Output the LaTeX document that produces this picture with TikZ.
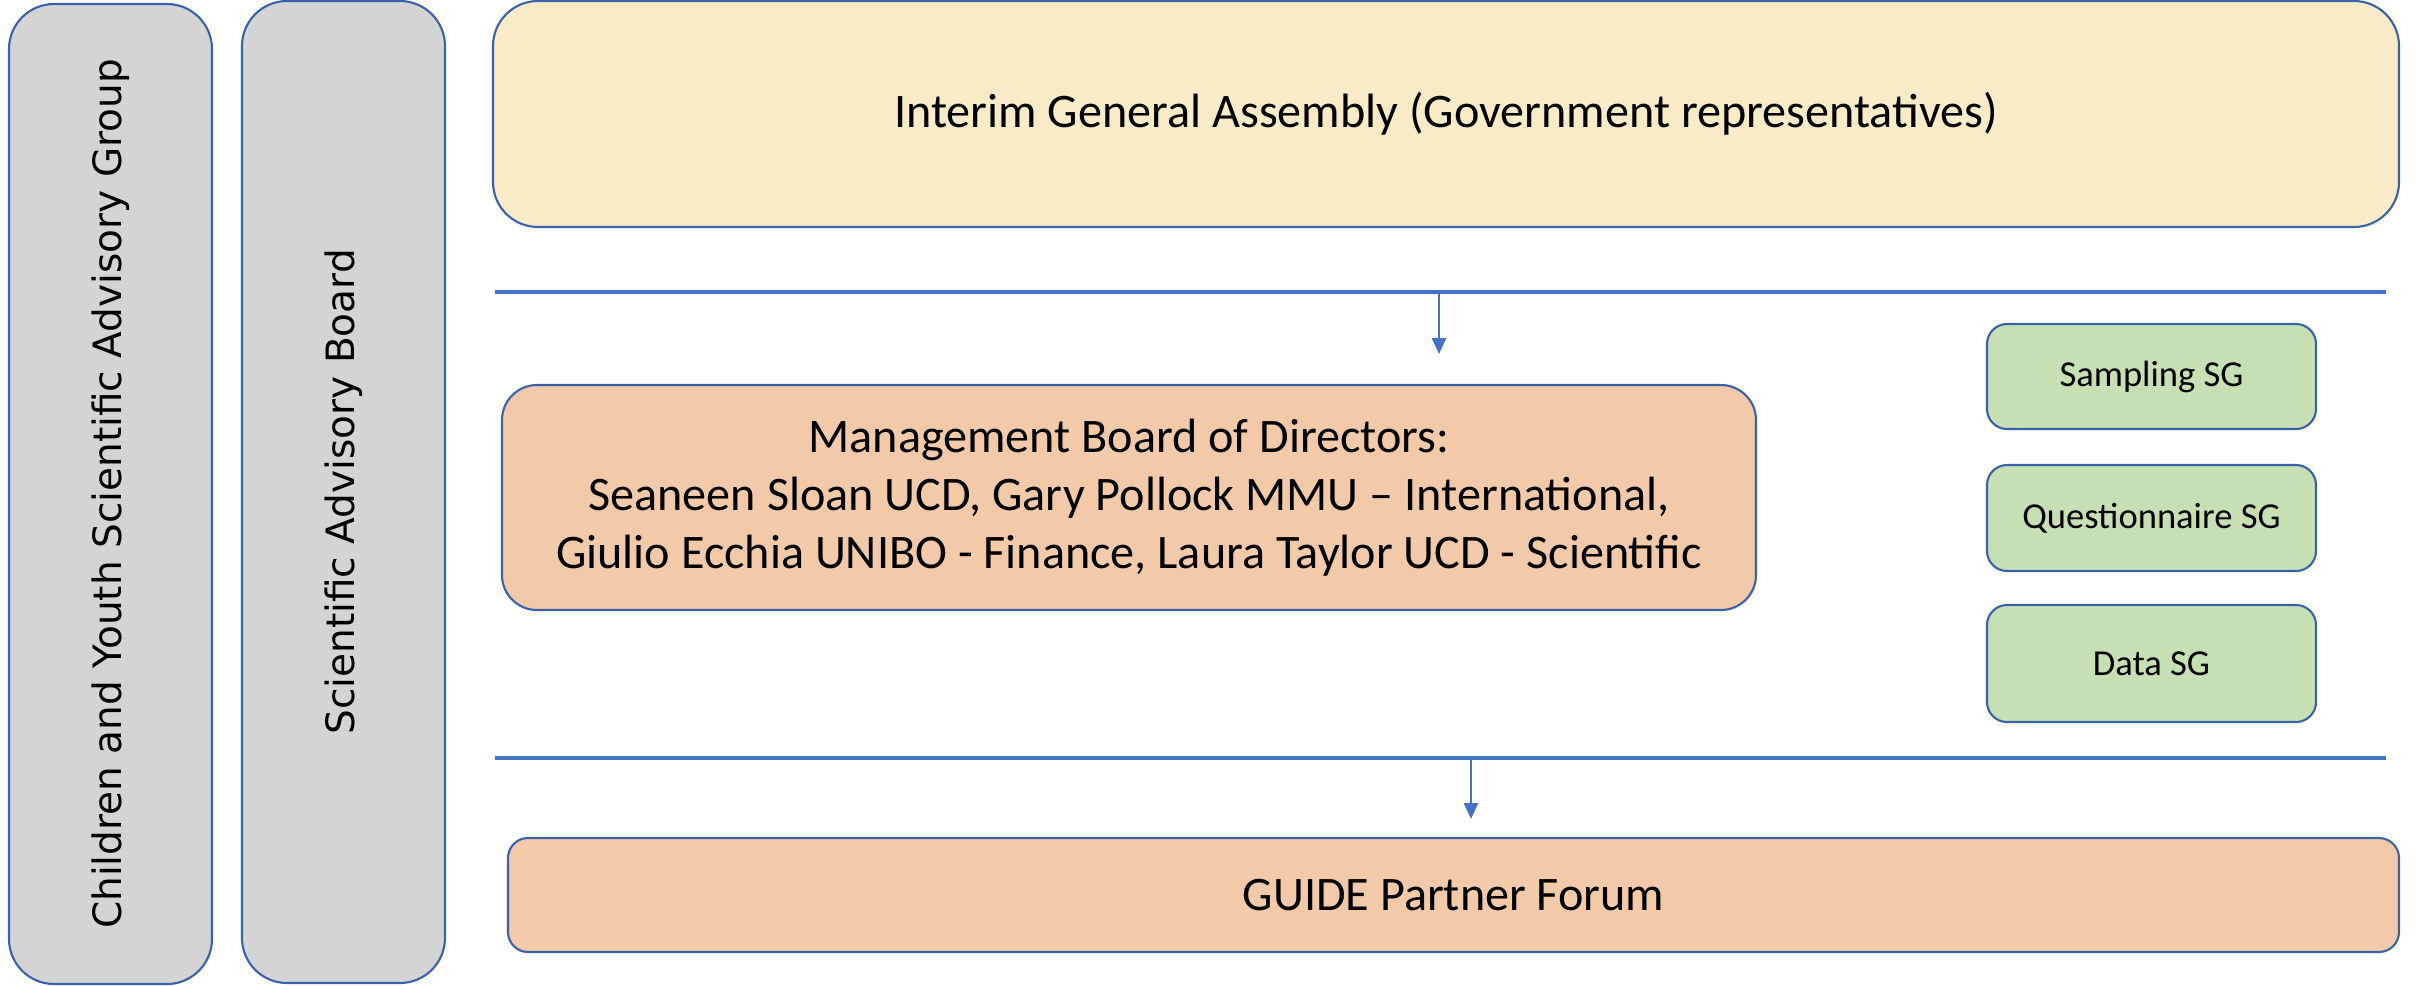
\documentclass[tikz,border=0pt]{standalone}
\usepackage{fontspec}
\setmainfont{Carlito}
\newfontfamily\sidefont{DejaVu Sans}
\usetikzlibrary{arrows.meta}
\definecolor{lineblue}{HTML}{4472C4}
\definecolor{edgeblue}{HTML}{3A62A8}
\definecolor{sidegray}{HTML}{D4D4D4}
\definecolor{assemblycream}{HTML}{F9EBC8}
\definecolor{boardpeach}{HTML}{F2C9A9}
\definecolor{groupgreen}{HTML}{C6E0B4}
\tikzset{
	sidebox/.style={draw=edgeblue, line width=0.6pt, fill=sidegray, rounded corners=4.5mm, inner sep=0pt, rotate=90, font=\sidefont\fontsize{11.1}{13}\selectfont},
	assemblybox/.style={draw=edgeblue, line width=0.6pt, fill=assemblycream, rounded corners=4.5mm, inner sep=0pt, font=\fontsize{13.7}{16.5}\selectfont},
	boardbox/.style={draw=edgeblue, line width=0.6pt, fill=boardpeach, rounded corners=3.5mm, inner sep=0pt, align=center, font=\fontsize{13.7}{16.5}\selectfont},
	groupbox/.style={draw=edgeblue, line width=0.6pt, fill=groupgreen, rounded corners=2mm, inner sep=0pt, minimum width=32.9mm, font=\fontsize{10.4}{12.5}\selectfont},
	divider/.style={draw=lineblue, line width=1.2pt},
	feed/.style={draw=lineblue, line width=0.8pt, -{Triangle[length=1.6mm,width=1.4mm]}}
}
\begin{document}
\begin{tikzpicture}[x=0.1mm, y=-0.1mm]
	%%%%% START %%%%%
	\useasboundingbox (0,0) rectangle (2417,985);
	
	\node[sidebox, minimum width=98mm, minimum height=20.3mm] (cysag) at (110.5, 494) {Children and Youth Scientific Advisory Group};
	\node[sidebox, minimum width=98.2mm, minimum height=20.3mm] (sab) at (343.5, 492) {Scientific Advisory Board};
	
	\node[assemblybox, minimum width=190.6mm, minimum height=22.6mm] (assembly) at (1446, 114) {Interim General Assembly (Government representatives)};
	
	\coordinate (topL) at (495, 292);
	\coordinate (topR) at (2386, 292);
	\draw[divider] (topL) -- (topR);
	\coordinate (topArrowA) at (1439, 292);
	\coordinate (topArrowB) at (1439, 354);
	\draw[feed] (topArrowA) -- (topArrowB);
	
	\node[boardbox, minimum width=125.4mm, minimum height=22.5mm] (board) at (1129, 497.5) {Management Board of Directors:\\Seaneen Sloan UCD, Gary Pollock MMU -- International,\\Giulio Ecchia UNIBO - Finance, Laura Taylor UCD - Scientific};
	
	\node[groupbox, minimum height=10.5mm] (sampling) at (2151.5, 376.5) {Sampling SG};
	\node[groupbox, minimum height=10.6mm] (questionnaire) at (2151.5, 518) {Questionnaire SG};
	\node[groupbox, minimum height=11.7mm] (data) at (2151.5, 663.5) {Data SG};
	
	\coordinate (botL) at (495, 758);
	\coordinate (botR) at (2386, 758);
	\draw[divider] (botL) -- (botR);
	\coordinate (botArrowA) at (1471, 758);
	\coordinate (botArrowB) at (1471, 819);
	\draw[feed] (botArrowA) -- (botArrowB);
	
	\node[boardbox, rounded corners=2mm, minimum width=189.1mm, minimum height=11.4mm] (forum) at (1453.5, 895) {GUIDE Partner Forum};
	%%%%% END %%%%%
\end{tikzpicture}
\end{document}
